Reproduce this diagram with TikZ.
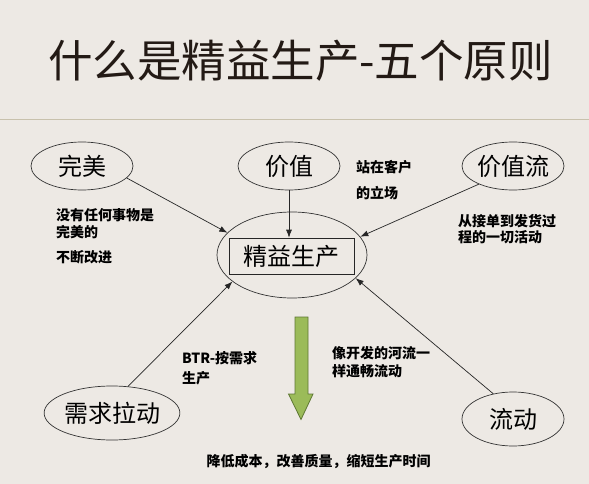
\documentclass[tikz,border=0pt]{standalone}
\usepackage{fontspec}
\newfontfamily\cjk{Noto Sans CJK SC}
\usetikzlibrary{shapes.geometric,arrows.meta}
\definecolor{bg}{HTML}{EDE9E4}
\definecolor{rulecol}{HTML}{C8C1AC}
\definecolor{arrowgreen}{HTML}{9BBB59}
\definecolor{arrowedge}{HTML}{5E7733}
\definecolor{titlecol}{HTML}{231A15}
\begin{document}
\begin{tikzpicture}[x=1pt,y=-1pt,
 principle/.style={ellipse,draw=black!80,line width=0.7pt,inner sep=0pt,font=\cjk\fontsize{24}{24}\selectfont},
 note/.style={font=\cjk\bfseries\fontsize{14}{17}\selectfont,anchor=west,align=left,inner sep=0pt},
 link/.style={draw=black!85,line width=0.7pt,-{Latex[length=8pt,width=6pt]}},
]
\fill[bg] (0,0) rectangle (589,484);
\useasboundingbox (0,0) rectangle (589,484);
\node[font=\cjk\fontsize{44.5}{44.5}\selectfont,text=titlecol] (title) at (300.5,61) {什么是精益生产-五个原则};
\coordinate (ruleL) at (0,119.5);
\coordinate (ruleR) at (589,119.5);
\draw[rulecol,line width=1pt] (ruleL) -- (ruleR);
% principles
\node[principle,minimum width=102pt,minimum height=48pt] (wm) at (82,166) {完美};
\node[principle,minimum width=102pt,minimum height=48pt] (jz) at (289,166) {价值};
\node[principle,minimum width=102pt,minimum height=48pt] (jzl) at (513,166) {价值流};
\node[principle,minimum width=116pt,minimum height=54pt] (xq) at (112,413) {需求拉动};
\node[principle,minimum width=102pt,minimum height=54pt] (ld) at (513,419) {流动};
\node[principle,minimum width=150pt,minimum height=86pt] (core) at (292,255) {};
\node[draw=black!85,line width=0.7pt,minimum width=125pt,minimum height=36pt,inner sep=0pt,font=\cjk\fontsize{24}{24}\selectfont] (rect) at (291.5,256) {精益生产};
% connectors
\draw[link] (wm.-15) -- (core.161);
\draw[link] (jz.south) -- (jz.south |- rect.north);
\draw[link] (jzl.208) -- (core.15);
\draw[link] (xq.59) -- (core.204);
\draw[link] (ld.128) -- (core.-20);
% notes
\node[note] (n1) at (56,223.5) {没有任何事物是\\完美的};
\node[note] (n2) at (56,257) {不断改进};
\node[note,font=\cjk\bfseries\fontsize{14}{26}\selectfont] (n3) at (356,180) {站在客户\\的立场};
\node[note,font=\cjk\bfseries\fontsize{14}{16.5}\selectfont] (n4) at (458,229) {从接单到发货过\\程的一切活动};
\node[note,font=\cjk\bfseries\fontsize{14}{20}\selectfont] (n5) at (182,368) {BTR-按需求\\生产};
\node[note,font=\cjk\bfseries\fontsize{14}{18.5}\selectfont] (n6) at (332,362) {像开发的河流一\\样通畅流动};
\node[note,anchor=center] (n7) at (318.5,461.5) {降低成本，改善质量，缩短生产时间};
% green arrow
\fill[arrowgreen,draw=arrowedge,line width=0.8pt,line join=miter]
 (295,317) -- (308,317) -- (308,394) -- (313,394) -- (301,419.5) -- (288.5,394) -- (295,394) -- cycle;
\end{tikzpicture}
\end{document}
